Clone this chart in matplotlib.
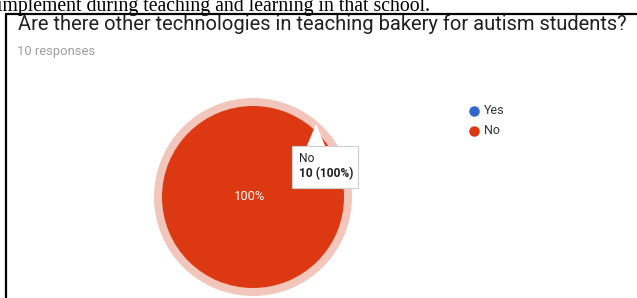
import matplotlib
matplotlib.use("Agg")
import matplotlib.pyplot as plt
from matplotlib.patches import Rectangle, Polygon

# chart data
labels = ["Yes", "No"]
counts = [0, 10]
colors = ["#3366cc", "#dc3912"]
halo_colors = ["#ffffff", "#f3c6bb"]
title = "Are there other technologies in teaching bakery for autism students?"
subtitle = "10 responses"
doc_line = "implement during teaching and learning in that school."

W, H = 637, 298
fig = plt.figure(figsize=(W / 100, H / 100), dpi=100)
ax = fig.add_axes([0, 0, 1, 1])

def px(s):
    # pixel size -> points
    return s * 0.72

# text of the document above the screenshot (cut off at the top)
ax.text(-3, 10.5, doc_line, fontsize=px(19.8), family="Liberation Serif",
        color="black", va="baseline", ha="left")

# screenshot border
ax.plot([6, 6], [13.5, H], color="black", lw=1.6, solid_capstyle="butt")
ax.plot([5, W], [13.5, 13.5], color="black", lw=1.6, solid_capstyle="butt")

ax.text(18, 24, title, fontsize=px(20.2), family="Roboto", color="#212121",
        va="center", ha="left")
ax.text(17, 52, subtitle, fontsize=px(13), family="Roboto", color="#9e9e9e",
        va="center", ha="left")

# highlighted slice halo, then the pie itself
total = sum(counts)
ax.pie(counts, colors=halo_colors, radius=99, center=(253, 197), startangle=90,
       counterclock=False, frame=True, wedgeprops=dict(linewidth=0))
wedges, _ = ax.pie(counts, colors=colors, radius=91, center=(253, 197), startangle=90,
                   counterclock=False, frame=True, wedgeprops=dict(linewidth=0))

pct = 100 * counts[1] / total
ax.text(250, 196, f"{pct:.0f}%", fontsize=px(13), family="Roboto", color="white",
        ha="center", va="center")

# tooltip
ax.add_patch(Polygon([(306, 148), (316, 124), (326, 148)], closed=True,
                     facecolor="white", edgecolor="none", zorder=5))
ax.add_patch(Rectangle((292, 146), 66, 42, facecolor="white", edgecolor="#cfcfcf",
                       lw=0.8, zorder=5))
ax.text(299, 158, labels[1], fontsize=px(12), family="Roboto", color="#212121",
        ha="left", va="center", zorder=6)
ax.text(299, 174, f"{counts[1]} ({pct:.0f}%)", fontsize=px(12), family="Roboto",
        fontweight="bold", color="#212121", ha="left", va="center", zorder=6)

# legend
for i, (lab, c) in enumerate(zip(labels, colors)):
    y = 111 + i * 19.5
    ax.scatter([474], [y], s=px(10.5) ** 2, color=c, linewidths=0, zorder=4)
    ax.text(484, y, lab, fontsize=px(12.5), family="Roboto", color="#333333",
            ha="left", va="center")

ax.set_xlim(0, W)
ax.set_ylim(H, 0)
ax.set_aspect("auto")
ax.axis("off")

fig.savefig("out.png", dpi=100)
